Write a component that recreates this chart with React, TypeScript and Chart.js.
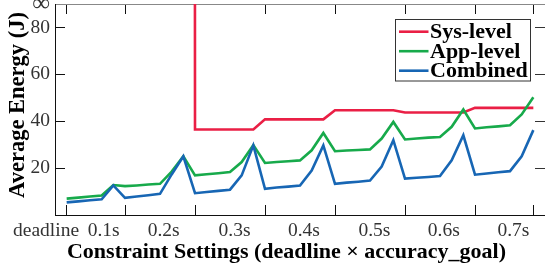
import { useEffect, useRef } from 'react';
import { Chart, registerables } from 'chart.js';

Chart.register(...registerables);

// ---- data ----
const INF = 10000; // "∞" (no result) – drawn far above the top of the axis
const deadlineLabels = ['deadline', '0.1s', '0.2s', '0.3s', '0.4s', '0.5s', '0.6s', '0.7s'];
const deadlineLabelPositions = [-1.77, 3.17, 8.31, 14.39, 20.34, 26.38, 32.33, 38.29];
const groupBoundaries = [0, 5, 11, 17, 23, 29, 35, 40];
const yTickValues = [20, 40, 60, 80];
const yInfinityTick = 90;
const seriesNames = ['Sys-level', 'App-level', 'Combined'];

const sysLevel = [
  INF, INF, INF, INF, INF, INF, INF, INF, INF, INF, INF,
  36.5, 36.5, 36.5, 36.5, 36.5, 36.5,
  40.8, 40.8, 40.8, 40.8, 40.8, 40.8,
  44.7, 44.7, 44.7, 44.7, 44.7, 44.7,
  43.7, 43.7, 43.7, 43.7, 43.7, 43.7,
  45.7, 45.7, 45.7, 45.7, 45.7, 45.7,
];
const appLevel = [
  7.0, 7.4, 7.9, 8.3, 12.8,
  12.3, 12.6, 13.0, 13.3, 18.5, 25.0,
  16.9, 17.4, 17.8, 18.3, 22.6, 29.8,
  22.2, 22.6, 22.9, 23.3, 27.6, 35.0,
  27.2, 27.5, 27.7, 28.0, 32.6, 39.7,
  32.2, 32.6, 33.0, 33.3, 37.6, 45.0,
  36.9, 37.4, 37.8, 38.3, 42.9, 50.2,
];
const combined = [
  5.4, 5.8, 6.3, 6.7, 12.6,
  7.3, 7.9, 8.4, 9.0, 17.3, 25.0,
  9.3, 9.8, 10.3, 10.8, 16.9, 29.7,
  11.2, 11.7, 12.1, 12.6, 19.0, 29.7,
  13.3, 13.8, 14.2, 14.7, 20.7, 31.9,
  15.5, 15.9, 16.2, 16.6, 23.3, 34.0,
  17.2, 17.7, 18.2, 18.7, 25.0, 36.2,
];
const settingIndex = combined.map((_, i) => i);

const COLORS = ['#ea1f45', '#17aa4b', '#1766b4'];
const FONT = "'Liberation Serif', 'Times New Roman', serif";

const toPoints = (vals: number[]) => settingIndex.map((x, i) => ({ x, y: vals[i] }));

const noPad = (s: any) => {
  s.paddingTop = 0;
  s.paddingBottom = 0;
  s.paddingLeft = 0;
  s.paddingRight = 0;
};

const overlayPlugin = {
  id: 'overlay',
  afterDraw(chart: any) {
    const ctx = chart.ctx as CanvasRenderingContext2D;
    ctx.save();
    // axis titles
    ctx.fillStyle = '#000';
    ctx.font = `bold 22.5px ${FONT}`;
    ctx.textAlign = 'center';
    ctx.textBaseline = 'middle';
    ctx.save();
    ctx.translate(18, 105);
    ctx.rotate(-Math.PI / 2);
    ctx.fillText('Average Energy (J)', 0, 0);
    ctx.restore();
    ctx.font = `bold 22px ${FONT}`;
    ctx.textBaseline = 'alphabetic';
    ctx.fillText('Constraint Settings (deadline \u00d7 accuracy_goal)', 286.5, 258);

    // legend
    const bx = 395, by = 19, bw = 135, bh = 61.5;
    ctx.fillStyle = '#fff';
    ctx.fillRect(bx, by, bw, bh);
    ctx.strokeStyle = '#333';
    ctx.lineWidth = 1;
    ctx.strokeRect(bx + 0.5, by + 0.5, bw, bh);
    chart.data.datasets.forEach((ds: any, i: number) => {
      const y = 31.7 + i * 19.5;
      ctx.strokeStyle = ds.borderColor;
      ctx.lineWidth = 2.6;
      ctx.beginPath();
      ctx.moveTo(399, y);
      ctx.lineTo(428.5, y);
      ctx.stroke();
      ctx.fillStyle = '#000';
      ctx.font = `bold 22px ${FONT}`;
      ctx.textAlign = 'left';
      ctx.textBaseline = 'alphabetic';
      ctx.fillText(ds.label, 430, y + 6.6);
    });
    ctx.restore();
  },
};

export default function App() {
  const ref = useRef<HTMLCanvasElement | null>(null);
  useEffect(() => {
    document.body.style.margin = '0';
    const canvas = ref.current!;
    const chart = new Chart(canvas, {
      type: 'line',
      data: {
        datasets: [
          { label: seriesNames[0], data: toPoints(sysLevel), borderColor: COLORS[0], order: 2 },
          { label: seriesNames[1], data: toPoints(appLevel), borderColor: COLORS[1], order: 1 },
          { label: seriesNames[2], data: toPoints(combined), borderColor: COLORS[2], order: 0 },
        ].map((d) => ({
          ...d,
          xAxisID: 'x',
          yAxisID: 'y',
          borderWidth: 2.6,
          pointRadius: 0,
          tension: 0,
          fill: false,
          backgroundColor: d.borderColor,
        })),
      },
      options: {
        animation: false,
        responsive: false,
        devicePixelRatio: 1,
        layout: { padding: 0 },
        plugins: { legend: { display: false }, tooltip: { enabled: false } },
        scales: {
          x: {
            type: 'linear',
            position: 'bottom',
            min: -1,
            max: 41,
            afterBuildTicks: (s: any) => {
              s.ticks = [...groupBoundaries, ...deadlineLabelPositions]
                .sort((a, b) => a - b)
                .map((v) => ({ value: v }));
            },
            afterFit: (s: any) => {
              s.height = 56;
              noPad(s);
            },
            grid: {
              drawOnChartArea: false,
              tickLength: -10,
              tickWidth: 1,
              tickColor: (c: any) =>
                c.tick && groupBoundaries.includes(c.tick.value) ? '#111' : 'rgba(0,0,0,0)',
            },
            border: { display: true, color: '#111', width: 1 },
            ticks: {
              autoSkip: false,
              maxRotation: 0,
              minRotation: 0,
              padding: 14,
              color: '#333',
              font: { family: FONT, size: 19.5 },
              callback: (v: any) => {
                const k = deadlineLabelPositions.indexOf(Number(v));
                return k >= 0 ? deadlineLabels[k] : '';
              },
            },
          },
          xTop: {
            type: 'linear',
            position: 'top',
            min: -1,
            max: 41,
            afterBuildTicks: (s: any) => {
              s.ticks = groupBoundaries.map((v) => ({ value: v }));
            },
            afterFit: (s: any) => {
              s.height = 4;
              noPad(s);
            },
            grid: { drawOnChartArea: false, tickLength: -10, tickColor: '#111' },
            border: { display: true, color: '#888', width: 1 },
            ticks: { display: false },
          },
          y: {
            type: 'linear',
            position: 'left',
            min: 0,
            max: yInfinityTick,
            afterBuildTicks: (s: any) => {
              s.ticks = [...yTickValues, yInfinityTick].map((v) => ({ value: v }));
            },
            afterFit: (s: any) => {
              s.width = 55;
              noPad(s);
            },
            grid: {
              drawOnChartArea: false,
              tickLength: -10,
              tickColor: (c: any) =>
                c.tick && c.tick.value === yInfinityTick ? 'rgba(0,0,0,0)' : '#111',
            },
            border: { display: true, color: '#111', width: 1 },
            ticks: {
              padding: 15,
              color: '#333',
              font: (c: any) => ({
                family: FONT,
                size: c.tick && c.tick.value === yInfinityTick ? 25 : 19.5,
              }),
              callback: (v: any) => (Number(v) === yInfinityTick ? '\u221e' : String(v)),
            },
          },
          yRight: {
            type: 'linear',
            position: 'right',
            min: 0,
            max: yInfinityTick,
            afterBuildTicks: (s: any) => {
              s.ticks = yTickValues.map((v) => ({ value: v }));
            },
            afterFit: (s: any) => {
              s.width = 0;
              noPad(s);
            },
            grid: { drawOnChartArea: false, tickLength: -10, tickColor: '#333' },
            border: { display: false },
            ticks: { display: false },
          },
        },
      } as any,
      plugins: [overlayPlugin],
    });
    return () => chart.destroy();
  }, []);
  return (
    <div style={{ position: 'fixed', left: 0, top: 0, width: 545, height: 271, background: '#fff' }}>
      <canvas ref={ref} width={545} height={271} style={{ display: 'block' }} />
    </div>
  );
}
